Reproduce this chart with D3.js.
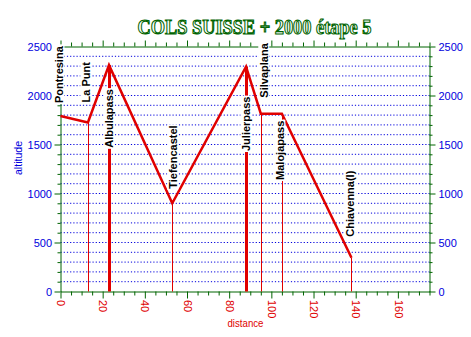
<!DOCTYPE html>
<html>
<head>
<meta charset="utf-8">
<script src="https://cdn.jsdelivr.net/npm/d3@7"></script>
<style>
  html, body { margin: 0; padding: 0; background: #fff; }
  svg { display: block; }
</style>
</head>
<body>
<script>
// ---- data ----
const places     = ["Pontresina", "La Punt", "Albulapass", "Tiefencastel", "Julierpass", "Silvaplana", "Malojapass", "Chiavenna(I)"];
const distances  = [0, 13, 23, 53, 88, 95, 105, 138];
const altitudes  = [1790, 1725, 2310, 900, 2295, 1815, 1815, 345];
const isPass     = [false, false, true, false, true, false, true, false];
const xTickLabels = [0, 20, 40, 60, 80, 100, 120, 140, 160];
const yTickLabels = [0, 500, 1000, 1500, 2000, 2500];
const titleText = "COLS SUISSE + 2000 étape 5";
const xTitle = "distance";
const yTitle = "altitude";

// ---- layout ----
const W = 471, H = 337;
const green = "#006400", blue = "#0000dd", red = "#e00000";
const x = d3.scaleLinear().domain([0, 175]).range([60.5, 429.5]);
const y = d3.scaleLinear().domain([0, 2500]).range([291.5, 46.5]);

const svg = d3.select("body").append("svg").attr("width", W).attr("height", H);

// title
svg.append("text")
  .attr("x", 137.5).attr("y", 33.7)
  .attr("textLength", 234).attr("lengthAdjust", "spacingAndGlyphs")
  .style("font-family", "'Liberation Serif', 'Times New Roman', serif")
  .style("font-weight", "bold").style("font-size", "20px")
  .attr("fill", "#fff").attr("stroke", green).attr("stroke-width", 1.1)
  .text(titleText);

// gridlines
svg.append("g").selectAll("line")
  .data(d3.range(100, 2500, 100))
  .join("line")
  .attr("x1", x(0)).attr("x2", x(175))
  .attr("y1", d => y(d)).attr("y2", d => y(d))
  .attr("stroke", blue).attr("stroke-width", 1).attr("stroke-dasharray", "1.2,2");

const fontTicks = "'Liberation Sans', Arial, sans-serif";
const y100 = d3.range(0, 2501, 100);
const x5 = d3.range(0, 176, 5);

function styleAxis(g) {
  g.select(".domain").attr("stroke", green).attr("stroke-width", 1);
  g.selectAll(".tick line").attr("stroke", green).attr("stroke-width", 1);
  g.selectAll("text").style("font-family", fontTicks).style("font-size", "11px");
}

// left axis
const gl = svg.append("g").attr("transform", `translate(${x(0)},0)`)
  .call(d3.axisLeft(y).tickValues(y100).tickSize(3).tickSizeOuter(0)
    .tickFormat(d => yTickLabels.includes(d) ? d : ""));
styleAxis(gl);
gl.selectAll(".tick line").attr("x2", d => yTickLabels.includes(d) ? -6 : -3);
gl.selectAll("text").attr("fill", blue).attr("x", -8.5).attr("dy", "0.35em");

// right axis
const gr = svg.append("g").attr("transform", `translate(${x(175)},0)`)
  .call(d3.axisRight(y).tickValues(y100).tickSize(3).tickSizeOuter(0)
    .tickFormat(d => yTickLabels.includes(d) ? d : ""));
styleAxis(gr);
gr.selectAll(".tick line").attr("x2", d => yTickLabels.includes(d) ? 6 : 3);
gr.selectAll("text").attr("fill", blue).attr("x", 9).attr("dy", "0.35em");

// top axis
const gt = svg.append("g").attr("transform", `translate(0,${y(2500)})`)
  .call(d3.axisTop(x).tickValues(x5).tickSize(4).tickSizeOuter(0).tickFormat(""));
styleAxis(gt);
gt.selectAll(".tick line").attr("y2", d => xTickLabels.includes(d) ? -6 : -4);

// bottom axis
const gb = svg.append("g").attr("transform", `translate(0,${y(0)})`)
  .call(d3.axisBottom(x).tickValues(x5).tickSize(4).tickSizeOuter(0)
    .tickFormat(d => xTickLabels.includes(d) ? d : ""));
styleAxis(gb);
gb.selectAll(".tick line").attr("y2", d => xTickLabels.includes(d) ? 7 : 4);
gb.selectAll("text").attr("fill", red)
  .attr("y", 0).attr("x", 0).attr("dy", "0.35em")
  .attr("text-anchor", "start")
  .attr("transform", "translate(0,8.5) rotate(90)");

// axis titles
svg.append("text")
  .attr("transform", `translate(22,${158})rotate(-90)`)
  .attr("text-anchor", "middle")
  .attr("textLength", 34).attr("lengthAdjust", "spacingAndGlyphs")
  .style("font-family", fontTicks).style("font-size", "11px")
  .attr("fill", blue).text(yTitle);
svg.append("text")
  .attr("x", 245.5).attr("y", 327)
  .attr("text-anchor", "middle")
  .attr("textLength", 36).attr("lengthAdjust", "spacingAndGlyphs")
  .style("font-family", fontTicks).style("font-size", "11px")
  .attr("fill", red).text(xTitle);

// vertical marker lines
const pts = places.map((p, i) => ({ name: p, d: distances[i], a: altitudes[i], pass: isPass[i] }));
svg.append("g").selectAll("line")
  .data(pts.slice(1))
  .join("line")
  .attr("x1", d => Math.round(x(d.d)) + 0.5).attr("x2", d => Math.round(x(d.d)) + 0.5)
  .attr("y1", y(0)).attr("y2", d => y(d.a))
  .attr("stroke", red)
  .attr("stroke-width", d => d.a >= 2000 ? 3 : 1);

// profile
svg.append("path")
  .datum(pts)
  .attr("fill", "none").attr("stroke", red).attr("stroke-width", 2.5)
  .attr("stroke-linejoin", "miter")
  .attr("d", d3.line().x(d => x(d.d)).y(d => y(d.a)));

// labels (pixel offsets from the point: gap along the line, dx sideways)
const labelLayout = {
  "Pontresina": { gap: 13, dx: -1.5 },
  "La Punt": { gap: 20, dx: -2 },
  "Albulapass": { gap: 24, dx: 0 },
  "Tiefencastel": { gap: 14.5, dx: 0.5 },
  "Julierpass": { gap: 30, dx: 0 },
  "Silvaplana": { gap: 16, dx: 3 },
  "Malojapass": { gap: 7, dx: -2 },
  "Chiavenna(I)": { gap: 21, dx: -1 }
};
pts.forEach(p => {
  const L = labelLayout[p.name];
  const px = x(p.d) + L.dx;
  const py = p.pass ? y(p.a) + L.gap : y(p.a) - L.gap;
  const g = svg.append("g").attr("transform", `translate(${px},${py})rotate(-90)`);
  const t = g.append("text")
    .attr("x", 0).attr("y", 0).attr("dy", "0.36em")
    .attr("text-anchor", p.pass ? "end" : "start")
    .style("font-family", fontTicks).style("font-weight", "bold").style("font-size", "11px")
    .attr("fill", "#000").text(p.name);
  const bb = t.node().getBBox();
  g.insert("rect", "text")
    .attr("x", bb.x - 1).attr("y", bb.y + 0.5)
    .attr("width", bb.width + 2).attr("height", bb.height - 1)
    .attr("fill", "#fff");
});
</script>
</body>
</html>
